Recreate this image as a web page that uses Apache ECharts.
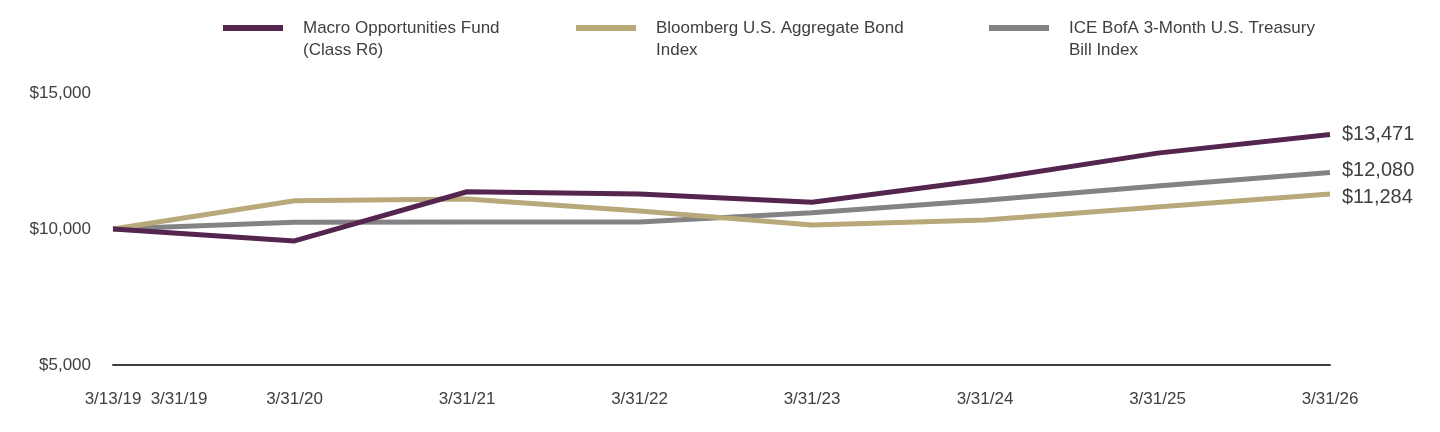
<!DOCTYPE html>
<html>
<head>
<meta charset="utf-8">
<script src="https://cdn.jsdelivr.net/npm/echarts@6/dist/echarts.min.js"></script>
<style>
html,body{margin:0;padding:0;background:#fff;}
#chart{width:1440px;height:432px;}
</style>
</head>
<body>
<div id="chart"></div>
<script>
// ---- data ----
const dates = ['3/13/19','3/31/20','3/31/21','3/31/22','3/31/23','3/31/24','3/31/25','3/31/26'];
const tickLabels = ['3/13/19','3/31/19','3/31/20','3/31/21','3/31/22','3/31/23','3/31/24','3/31/25','3/31/26'];
const fundName = 'Macro Opportunities Fund\n(Class R6)';
const bondName = 'Bloomberg U.S. Aggregate Bond\nIndex';
const billName = 'ICE BofA 3-Month U.S. Treasury\nBill Index';
const fund  = [10000, 9560, 11370, 11290, 10980, 11810, 12790, 13471];
const bond  = [10000, 11040, 11100, 10660, 10150, 10330, 10810, 11284];
const tbill = [10000, 10245, 10256, 10260, 10600, 11054, 11580, 12080];
const yTicks = [5000, 10000, 15000];

// ---- helpers ----
const DAY = 86400000;
function toTs(s){ const p = s.split('/'); return Date.UTC(2000 + (+p[2]), (+p[0]) - 1, +p[1]); }
const T0 = toTs(dates[0]);
const toDay = s => Math.round((toTs(s) - T0) / DAY);
function money(v){ return '$' + Math.round(v).toLocaleString('en-US'); }
const pairs = arr => dates.map((d, i) => [toDay(d), arr[i]]);
const tickDays = tickLabels.map(toDay);

const FONT = '"Liberation Sans", Arial, sans-serif';
const TXT = '#404040';
const C_FUND = '#54254F', C_BOND = '#B8A87A', C_BILL = '#838386';

const legendBase = {
  top: -5, padding: 0, icon: 'rect', itemWidth: 60, itemHeight: 6,
  selectedMode: false,
  formatter: name => '\n' + name,
  textStyle: { fontFamily: FONT, fontSize: 17, color: TXT, lineHeight: 22, padding: [0, 0, 0, 15] }
};

const endLabel = (dy) => ({
  show: true, distance: 12, offset: [0, dy],
  formatter: p => money(p.value[1]),
  fontFamily: FONT, fontSize: 20, color: TXT
});

const chart = echarts.init(document.getElementById('chart'), null, { renderer: 'canvas' });
chart.setOption({
  animation: false,
  backgroundColor: '#fff',
  legend: [
    Object.assign({}, legendBase, { left: 223, data: [fundName] }),
    Object.assign({}, legendBase, { left: 576, data: [bondName] }),
    Object.assign({}, legendBase, { left: 989, data: [billName] })
  ],
  grid: { left: 113, right: 110, top: 93, bottom: 67, containLabel: false },
  xAxis: {
    type: 'value',
    min: 0, max: toDay(dates[dates.length - 1]),
    splitLine: { show: false },
    axisTick: { show: false },
    axisLine: { show: true, onZero: false, lineStyle: { color: TXT, width: 2 } },
    axisLabel: {
      customValues: tickDays,
      hideOverlap: false,
      showMinLabel: true, showMaxLabel: true,
      margin: 26,
      fontFamily: FONT, fontSize: 17, color: TXT,
      formatter: v => {
        const i = tickDays.indexOf(Math.round(v));
        if (i < 0) return '';
        return i === 1 ? '{s|' + tickLabels[i] + '}' : tickLabels[i];
      },
      rich: { s: { fontFamily: FONT, fontSize: 17, color: TXT, padding: [0, 0, 0, 115] } }
    }
  },
  yAxis: {
    type: 'value', min: yTicks[0], max: yTicks[yTicks.length - 1], interval: 5000,
    splitLine: { show: false },
    axisLine: { show: false }, axisTick: { show: false },
    axisLabel: { margin: 22, fontFamily: FONT, fontSize: 17, color: TXT, formatter: money }
  },
  series: [
    { name: billName, type: 'line', data: pairs(tbill), showSymbol: false, color: C_BILL,
      lineStyle: { width: 5, color: C_BILL }, endLabel: endLabel(-2) },
    { name: bondName, type: 'line', data: pairs(bond), showSymbol: false, color: C_BOND,
      lineStyle: { width: 5, color: C_BOND }, endLabel: endLabel(3) },
    { name: fundName, type: 'line', data: pairs(fund), showSymbol: false, color: C_FUND,
      lineStyle: { width: 5, color: C_FUND }, endLabel: endLabel(0) }
  ]
});
</script>
</body>
</html>
